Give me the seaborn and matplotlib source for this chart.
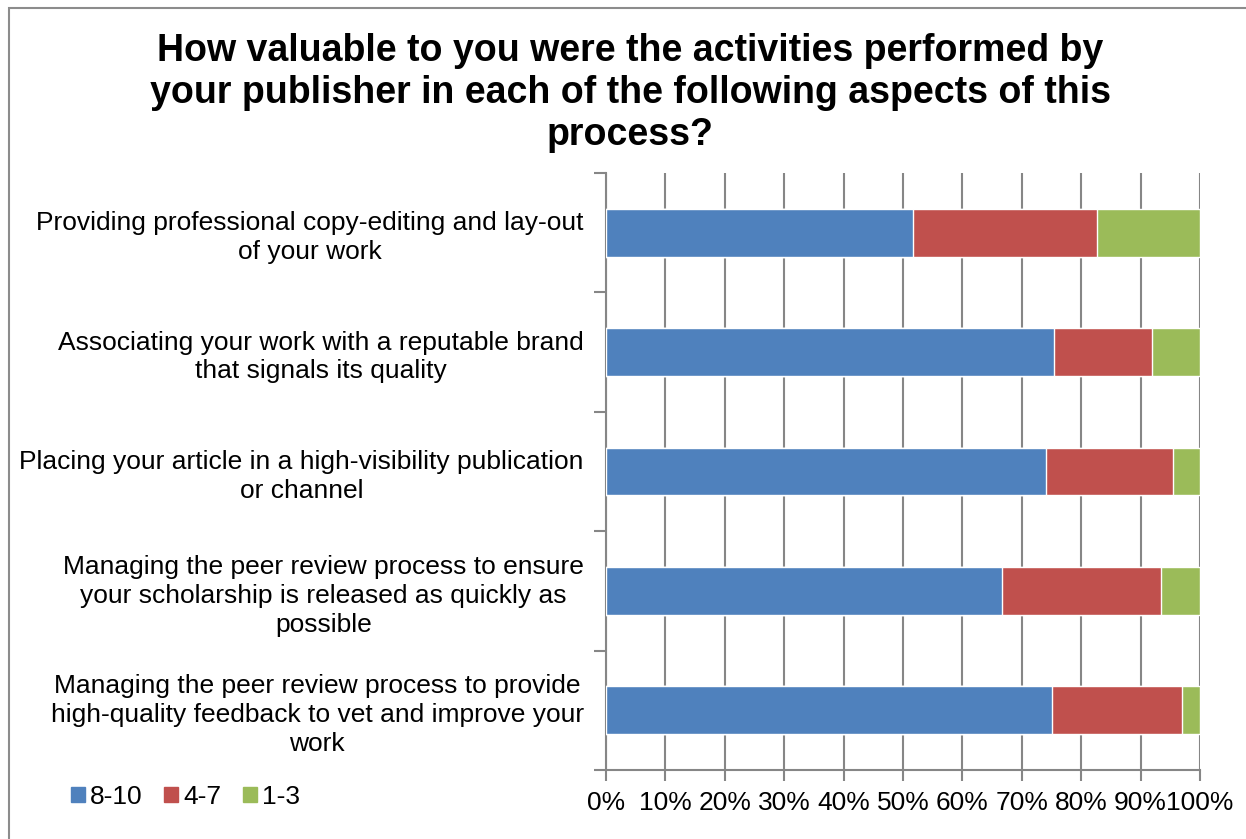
import numpy as np
import pandas as pd
import matplotlib
matplotlib.use("Agg")
import matplotlib.pyplot as plt
import matplotlib.patches as mpatches
import seaborn as sns

aspects = [
    "Providing professional copy-editing and lay-out\nof your work",
    "Associating your work with a reputable brand\nthat signals its quality",
    "Placing your article in a high-visibility publication\nor channel",
    "Managing the peer review process to ensure\nyour scholarship is released as quickly as\npossible",
    "Managing the peer review process to provide\nhigh-quality feedback to vet and improve your\nwork",
]
high = [51.7, 75.5, 74.0, 66.7, 75.1]   # 8-10
mid = [30.9, 16.5, 21.5, 26.8, 21.9]    # 4-7
low = [17.4, 8.0, 4.5, 6.5, 3.0]        # 1-3
series = ["8-10", "4-7", "1-3"]
colors = ["#4F81BD", "#C0504D", "#9BBB59"]

df = pd.DataFrame({"aspect": aspects, "8-10": high, "4-7": mid, "1-3": low})
cum = df[series].cumsum(axis=1)

sns.set_style("white")
plt.rcParams["font.family"] = ["Liberation Sans", "DejaVu Sans"]
plt.rcParams["text.color"] = "black"
plt.rcParams["xtick.color"] = "black"
plt.rcParams["ytick.color"] = "black"

fig = plt.figure(figsize=(12.46, 8.39), dpi=100)
ax = fig.add_axes([606 / 1246, 1 - 770 / 839, 594 / 1246, 597 / 839])

# stacked bars: draw the widest (cumulative) first
for name, col in reversed(list(zip(series, colors))):
    sns.barplot(x=cum[name], y=df["aspect"], orient="h", color=col,
                width=0.4, saturation=1, ax=ax, zorder=3)

ax.set_xlim(0, 100)
ax.set_ylim(4.5, -0.5)
ax.set_xticks(np.arange(0, 101, 10))
ax.set_xticklabels([f"{v}%" for v in range(0, 101, 10)])
ax.xaxis.grid(True, color="#868686", linewidth=1.5, zorder=0)
ax.set_axisbelow(True)
ax.set_xlabel("")
ax.set_ylabel("")

for s in ["top", "right"]:
    ax.spines[s].set_visible(False)
for s in ["left", "bottom"]:
    ax.spines[s].set_color("#868686")
    ax.spines[s].set_linewidth(1.5)

ax.tick_params(axis="x", which="major", length=8, width=1.5, color="#868686",
               direction="out", labelsize=19, pad=7, bottom=True,
               labelcolor="black")
ax.tick_params(axis="y", which="major", length=0, labelsize=19, pad=16,
               labelcolor="black")
ax.set_yticks(np.arange(-0.5, 5, 1), minor=True)
ax.tick_params(axis="y", which="minor", length=9, width=1.5, color="#868686",
               direction="out", left=True)
for lab in ax.get_yticklabels():
    lab.set_multialignment("center")
    lab.set_linespacing(1.25)

fig.text(630 / 1246, 1 - 93 / 839,
         "How valuable to you were the activities performed by\n"
         "your publisher in each of the following aspects of this\nprocess?",
         ha="center", va="center", fontsize=27, fontweight="bold",
         linespacing=1.21, color="black")

handles = [mpatches.Patch(color=c, label=n) for n, c in zip(series, colors)]
fig.legend(handles=handles, loc="center left",
           bbox_to_anchor=(47 / 1246, 1 - 797 / 839), ncol=3, frameon=False,
           fontsize=19, handlelength=0.53, handleheight=0.53,
           handletextpad=0.19, columnspacing=0.83, labelcolor="black")

fig.add_artist(mpatches.Rectangle((9 / 1246, -0.1), 2, 0.1 + 1 - 8 / 839,
                                  transform=fig.transFigure, fill=False,
                                  edgecolor="#8c8c8c", linewidth=1.5))

fig.savefig("out.png", dpi=100)
